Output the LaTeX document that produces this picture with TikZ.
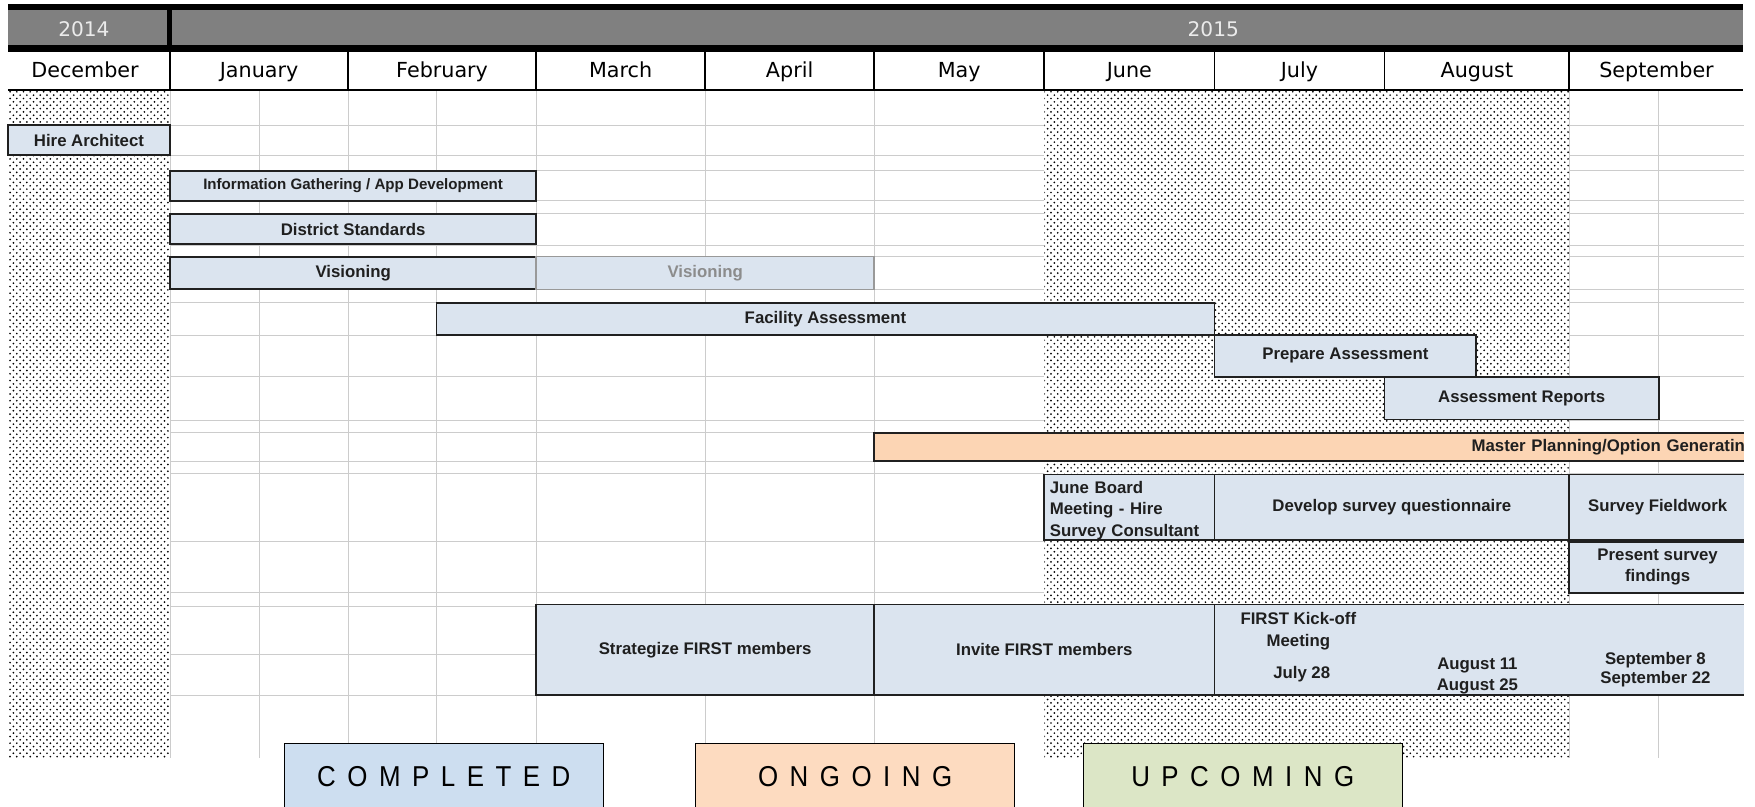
\documentclass[tikz,border=0pt]{standalone}
\usepackage{fontspec}
\newfontfamily\chartfont{Liberation Sans}
\newfontfamily\monthfont{DejaVu Sans}
\newfontfamily\legendfont[FakeStretch=0.9,LetterSpace=40]{Liberation Sans}
\usetikzlibrary{patterns.meta}
\definecolor{headgray}{RGB}{128,128,128}
\definecolor{barfill}{RGB}{219,228,239}
\definecolor{barline}{RGB}{32,32,32}
\definecolor{barorange}{RGB}{252,213,180}
\definecolor{legblue}{RGB}{205,222,240}
\definecolor{legorange}{RGB}{253,219,192}
\definecolor{leggreen}{RGB}{220,230,198}
\tikzdeclarepattern{
  name=stippledots,
  type=uncolored,
  bottom left={(-1pt,-1pt)},
  top right={(5pt,5pt)},
  tile size={(6pt,6pt)},
  code={
    \fill (0pt,0pt) circle [radius=.85pt];
    \fill (3pt,3pt) circle [radius=.85pt];
  }
}
% bar: [style] name, x from, x to, y from, y to, text
\newcommand{\ganttbar}[7][]{%
  \node[bar,minimum width={#4-#3},minimum height={#6-#5},#1] (#2) at ({(#3+#4)/2},{(#5+#6)/2}) {#7};}

\begin{document}
\begin{tikzpicture}[x=1pt, y=-1pt,
	bar/.style={draw=barline, line width=1.6pt, fill=barfill, inner sep=0pt, outer sep=0pt, align=center, text=black!88,
		font=\chartfont\bfseries\fontsize{15}{19}\selectfont},
	grid/.style={draw=black!20, line width=.8pt},
	stipple/.style={fill=white, postaction={pattern=stippledots, pattern color=black}},
	month/.style={anchor=base, font=\monthfont\fontsize{18.5}{22}\selectfont},
	year/.style={anchor=base, text=black!8, font=\monthfont\fontsize{18}{22}\selectfont},
	legend/.style={draw=black, line width=1pt, minimum width=285, minimum height=59, anchor=north,
		font=\legendfont\fontsize{25.7}{30}\selectfont}]

    \useasboundingbox (0,0) rectangle (1568,721);

    % grid
    \foreach \x in {152,232,311,390,479,630,781,933,1402,1482}
        \draw[grid] (\x,80.4) -- (\x,677.5);
    \foreach \y in {111.7,138.5,151.9,178.7,190.6,218.9,229.3,258.5,270.4,299.3,336.5,375.2,386.6,411.9,422.9,483.9,529.5,541.4,584.6,620.9}
        \draw[grid] (152,\y) -- (1558,\y);
    \path[stipple] (7,80.4) rectangle (152,677.5);
    \path[stipple] (933,80.4) rectangle (1402,677.5);

    % header
    \fill[black] (7,3.6) rectangle (1557,46.2);
    \fill[headgray] (7,8.9) rectangle (149,40.2);
    \fill[headgray] (154,8.9) rectangle (1557,40.2);
    \node[year] (y2014) at (75,32.8) {2014};
    \node[year] (y2015) at (1084,32.8) {2015};
    \foreach \m/\xa/\xb in {December/0/152, January/152/311, February/311/479, March/479/630, April/630/781,
                           May/781/933, June/933/1085, July/1085/1237, August/1237/1402, September/1402/1558}
        \node[month] (\m) at ({(\xa+\xb)/2},69) {\m};
    \foreach \x in {152,311,479,630,781,933,1085,1237,1402}
        \draw[line width=1.5pt] (\x,46.2) -- (\x,80.4);
    \draw[line width=1.5pt] (7,80.4) -- (1557,80.4);

    % tasks
    \ganttbar{hire}{7}{152}{111.7}{138.5}{Hire Architect}
    \ganttbar[font=\chartfont\bfseries\fontsize{13.5}{16}\selectfont]{info}{152}{479}{152.5}{179.3}{Information Gathering / App Development}
    \ganttbar{district}{152}{479}{191.2}{218.3}{District Standards}
    \ganttbar{vision}{152}{479}{229.3}{258.5}{Visioning}
    \ganttbar[draw=black!40, line width=1.2pt, text=black!45]{visionlate}{479}{781}{229.3}{258.5}{Visioning}
    \ganttbar{facility}{390}{1085}{270.4}{299.3}{Facility Assessment}
    \ganttbar{prepare}{1085}{1319}{299.3}{336.5}{Prepare Assessment}
    \ganttbar{reports}{1237}{1482}{336.5}{374.8}{Assessment Reports}
    \ganttbar{juneboard}{933}{1085}{424}{482.5}{}
    \node[bar, draw=none, fill=none, text width=142, align=left] (juneboardtext) at (1009,456) {June Board\\Meeting - Hire\\Survey Consultant};
    \ganttbar{develop}{1085}{1402}{424}{482.5}{Develop survey questionnaire}
    \ganttbar{strategize}{479}{781}{540}{621}{Strategize FIRST members}
    \ganttbar{invite}{781}{1085}{540}{621}{Invite FIRST members}
    \begin{scope}
        \clip (0,0) rectangle (1558,721);
        \ganttbar[fill=barorange, text width=777, align=right]{master}{781}{1560}{386.6}{411.9}{Master Planning/Option Generatin}
        \ganttbar{fieldwork}{1402}{1560}{424}{482.5}{Survey Fieldwork}
        \ganttbar[font=\chartfont\bfseries\fontsize{15}{18.5}\selectfont]{present}{1402}{1560}{484}{529.5}{Present survey\\findings}
        \ganttbar{meetings}{1085}{1560}{540}{621}{}
    \end{scope}
    \node[bar, draw=none, fill=none, font=\chartfont\bfseries\fontsize{15}{20}\selectfont] (kickoff) at (1160,564) {FIRST Kick-off\\Meeting};
    \node[bar, draw=none, fill=none] (july) at (1163,602.5) {July 28};
    \node[bar, draw=none, fill=none] (august) at (1320,604) {August 11\\August 25};
    \node[bar, draw=none, fill=none, font=\chartfont\bfseries\fontsize{15}{17}\selectfont] (september) at (1479,598.5) {September 8\\September 22};

    % legend
    \node[legend, fill=legblue] (completed) at (396.5,664) {COMPLETED};
    \node[legend, fill=legorange] (ongoing) at (764,664) {ONGOING};
    \node[legend, fill=leggreen] (upcoming) at (1110.3,664) {UPCOMING};
\end{tikzpicture}
\end{document}
